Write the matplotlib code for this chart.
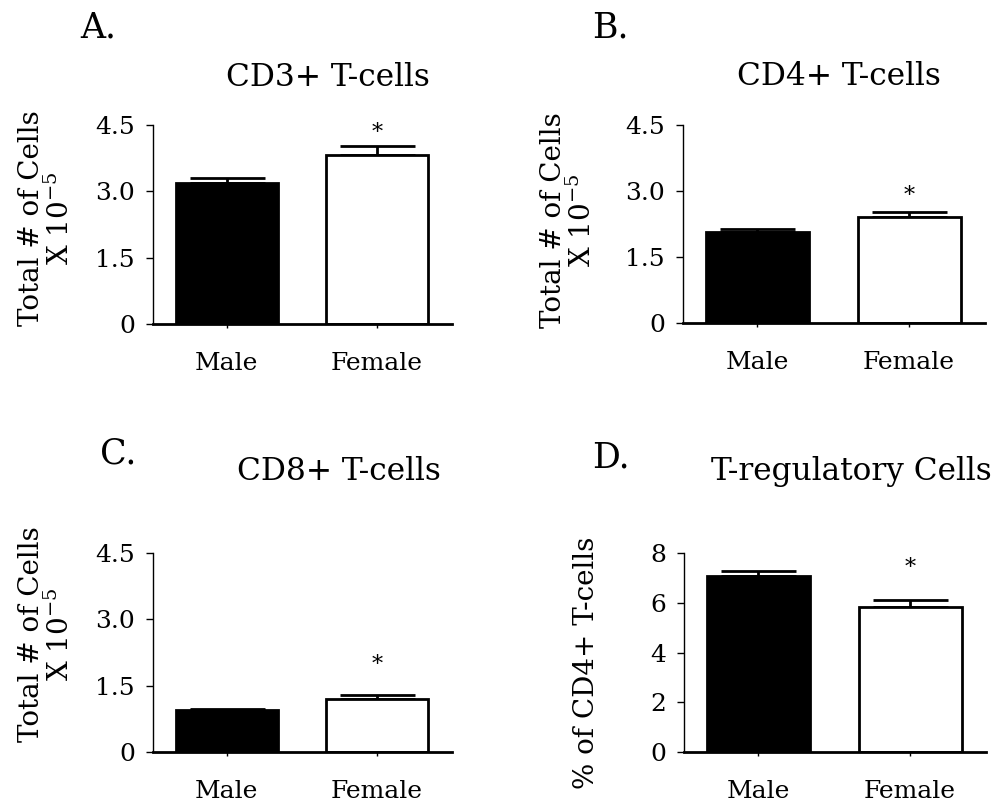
import matplotlib
matplotlib.use("Agg")
import matplotlib.pyplot as plt

plt.rcParams["font.family"] = ["DejaVu Serif"]
plt.rcParams["mathtext.fontset"] = "dejavuserif"

groups = ["Male", "Female"]

# panel data: means, upper error (SEM)
cd3_mean = [3.19, 3.82]
cd3_err = [0.11, 0.21]
cd4_mean = [2.07, 2.41]
cd4_err = [0.07, 0.11]
cd8_mean = [0.95, 1.20]
cd8_err = [0.03, 0.09]
treg_mean = [7.07, 5.82]
treg_err = [0.20, 0.28]

cell_ticks = [0, 1.5, 3.0, 4.5]
cell_ticklabels = ["0", "1.5", "3.0", "4.5"]
treg_ticks = [0, 2, 4, 6, 8]
treg_ticklabels = ["0", "2", "4", "6", "8"]

titles = ["CD3+ T-cells", "CD4+ T-cells", "CD8+ T-cells", "T-regulatory Cells"]
letters = ["A.", "B.", "C.", "D."]
cell_ylabel = "Total # of Cells\nX 10$^{-5}$"
treg_ylabel = "% of CD4+ T-cells"

W, H = 1005, 811
fig = plt.figure(figsize=(W / 100, H / 100), dpi=100)


def px(x, y):
    return x / W, 1 - y / H


# axes rectangles in pixels: left, top, right, bottom
rects = [(153, 125, 452, 324), (683, 125, 985, 323),
         (153, 553, 452, 752), (684, 553, 986, 752)]
# title centers / baselines and letter positions in pixels
title_pos = [(328, 86), (839, 85), (339, 480), (851, 480)]
letter_pos = [(80, 38), (592, 37), (100, 463), (592, 468)]
star_off = [5, 7, 17, 19]
label_xy = [(-0.26, 0.53), (-0.285, 0.52), (-0.26, 0.59), (-0.278, 0.45)]

panels = [
    (cd3_mean, cd3_err, cell_ticks, cell_ticklabels, cell_ylabel),
    (cd4_mean, cd4_err, cell_ticks, cell_ticklabels, cell_ylabel),
    (cd8_mean, cd8_err, cell_ticks, cell_ticklabels, cell_ylabel),
    (treg_mean, treg_err, treg_ticks, treg_ticklabels, treg_ylabel),
]

for i, (mean, err, ticks, tlabels, ylabel) in enumerate(panels):
    l, t, r, b = rects[i]
    ax = fig.add_axes([l / W, 1 - b / H, (r - l) / W, (b - t) / H])
    x = range(len(groups))
    ax.bar(x, mean, width=0.68, color=["black", "white"], edgecolor="black",
           linewidth=2, zorder=2)
    ax.errorbar(x, mean, yerr=[[0, 0], err], fmt="none", ecolor="black",
                elinewidth=2, capsize=27, capthick=2, zorder=1)
    # significance star over the female bar
    ax.annotate("*", xy=(1, mean[1] + err[1]), xytext=(0, star_off[i]),
                textcoords="offset points", ha="center", va="baseline",
                fontsize=16)
    ax.set_xlim(-0.49, 1.5)
    ax.set_ylim(ticks[0], ticks[-1])
    ax.set_yticks(ticks)
    ax.set_yticklabels(tlabels, fontsize=18)
    ax.set_xticks(list(x))
    ax.set_xticklabels(groups, fontsize=18)
    ax.spines["top"].set_visible(False)
    ax.spines["right"].set_visible(False)
    ax.spines["left"].set_linewidth(1)
    ax.spines["bottom"].set_linewidth(2)
    ax.tick_params(axis="y", direction="out", length=5, width=1, pad=8)
    ax.tick_params(axis="x", direction="out", length=3, width=1, pad=17)
    ax.set_ylabel(ylabel, fontsize=20, linespacing=1.05)
    ax.yaxis.set_label_coords(*label_xy[i])

    tx, ty = px(*title_pos[i])
    fig.text(tx, ty, titles[i], fontsize=22.5, ha="center", va="baseline")
    lx, ly = px(*letter_pos[i])
    fig.text(lx, ly, letters[i], fontsize=25, ha="left", va="baseline")

fig.savefig("out.png", dpi=100)
